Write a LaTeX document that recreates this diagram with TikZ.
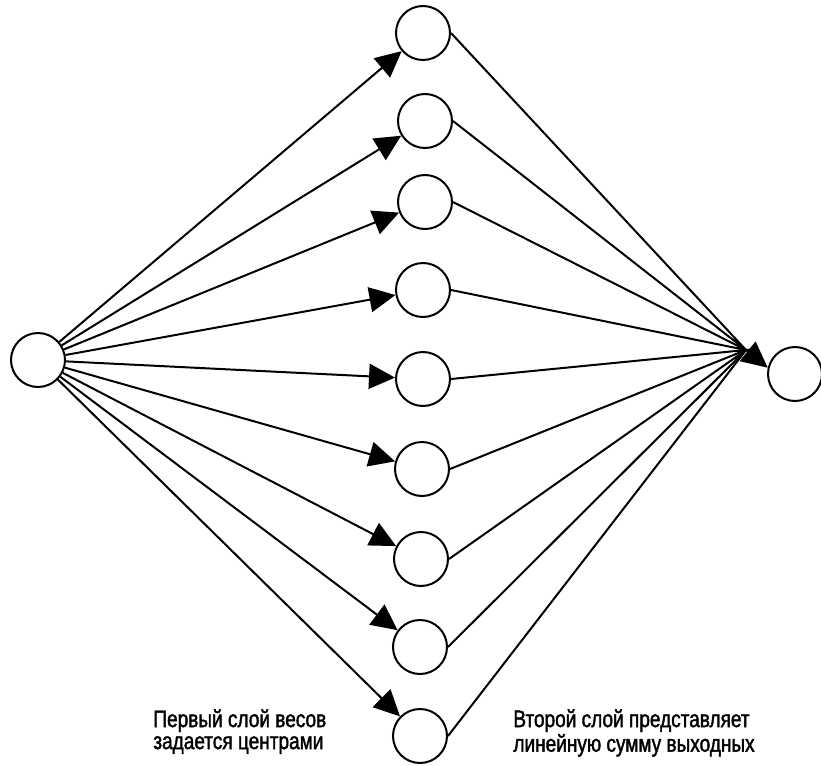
\documentclass[tikz,border=0pt]{standalone}
\usepackage{fontspec}
\usetikzlibrary{arrows.meta}
\newfontfamily\rbflabel{Liberation Sans}[FakeStretch=0.8,FakeBold=1.6]

\begin{document}
\begin{tikzpicture}[x=0.5pt,y=-0.5pt,
		neuron/.style={draw,circle,line width=1pt,minimum size=27pt,inner sep=0pt},
		link/.style={line width=1pt},
		weight/.style={link,-{Triangle[length=13pt,width=12.5pt]}},
		caption/.style={font=\rbflabel\fontsize{11.9}{11}\selectfont,align=left,anchor=north west,inner sep=0pt}]
			\useasboundingbox (0,0) rectangle (821,766);
			% input, hidden layer and output
			\node[neuron] (in)  at (38,360) {};
			\node[neuron] (h1)  at (423,33) {};
			\node[neuron] (h2)  at (425,121) {};
			\node[neuron] (h3)  at (425,202) {};
			\node[neuron] (h4)  at (423,290) {};
			\node[neuron] (h5)  at (423,379) {};
			\node[neuron] (h6)  at (422,469) {};
			\node[neuron] (h7)  at (421,559) {};
			\node[neuron] (h8)  at (420,647) {};
			\node[neuron] (h9)  at (420,736) {};
			\node[neuron] (out) at (795,374) {};
			\coordinate (sum) at (746,350);
			% first layer
			\draw[weight] (in) -- (h1);
			\draw[weight] (in) -- (h2);
			\draw[weight] (in) -- (h3);
			\draw[weight] (in) -- (h4);
			\draw[weight] (in) -- (h5);
			\draw[weight] (in) -- (h6);
			\draw[weight] (in) -- (h7);
			\draw[weight] (in) -- (h8);
			\draw[weight] (in) -- (h9);
			% second layer
			\draw[link] (h1.east) -- (sum) -- (h2.east);
			\draw[link] (h3.east) -- (sum) -- (h4.east);
			\draw[link] (h5.east) -- (sum) -- (h6.east);
			\draw[link] (h7.east) -- (sum) -- (h8.east);
			\draw[link] (h9.east) -- (sum);
			\draw[weight] (sum) -- (out.167);
			\node[caption] (c1) at (153,709) {Первый слой весов\\задается центрами};
			\node[caption] (c2) at (513,709) {Второй слой представляет\\линейную сумму выходных};
\end{tikzpicture}
\end{document}
